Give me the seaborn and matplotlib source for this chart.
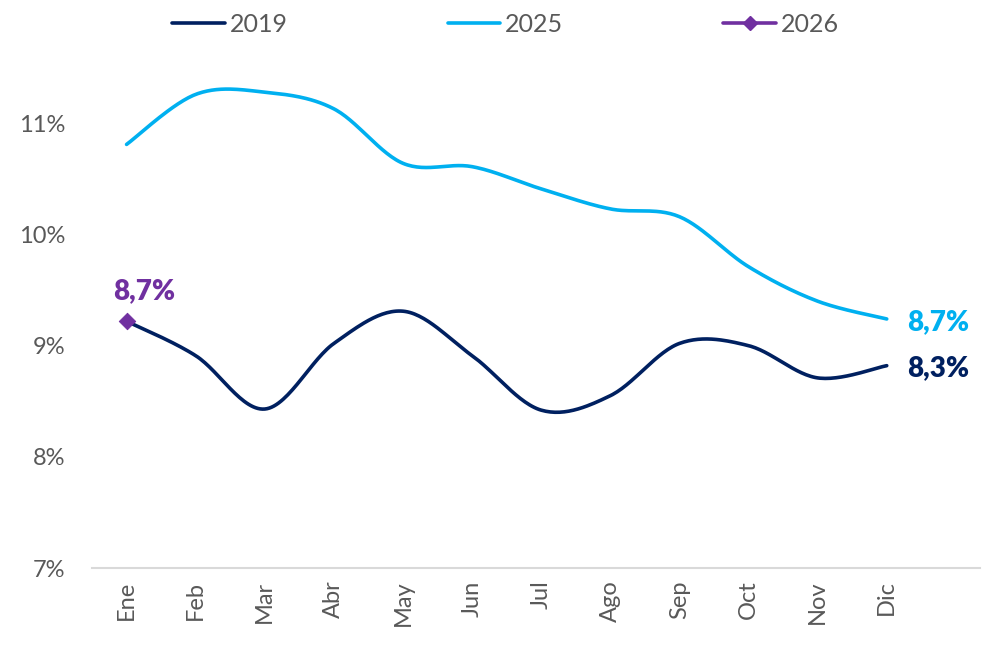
import numpy as np
import pandas as pd
import matplotlib
matplotlib.use("Agg")
import matplotlib.pyplot as plt
from matplotlib.lines import Line2D
import seaborn as sns

months = ["Ene", "Feb", "Mar", "Abr", "May", "Jun", "Jul", "Ago", "Sep", "Oct", "Nov", "Dic"]
v2019 = [9.22, 8.91, 8.43, 9.02, 9.31, 8.91, 8.42, 8.55, 9.02, 9.00, 8.71, 8.82]
v2025 = [10.81, 11.26, 11.28, 11.13, 10.64, 10.61, 10.41, 10.23, 10.16, 9.71, 9.40, 9.24]
v2026 = [9.22]
label2026 = "8,7%"
label2025 = "8,7%"
label2019 = "8,3%"
yticks = [7, 8, 9, 10, 11]
ytick_labels = ["7%", "8%", "9%", "10%", "11%"]

C2019 = "#002060"
C2025 = "#00B0F0"
C2026 = "#7030A0"
GREY = "#595959"

sns.set_theme(style="white")
plt.rcParams["font.family"] = ["Lato", "DejaVu Sans"]


def smooth(y, n=30):
    """Excel-style smoothed rendering (Catmull-Rom Bezier) of the data points."""
    y = np.asarray(y, float)
    x = np.arange(len(y), dtype=float)
    P = np.column_stack([x, y])
    out = []
    for i in range(len(P) - 1):
        p0 = P[i - 1] if i > 0 else P[i]
        p1 = P[i]
        p2 = P[i + 1]
        p3 = P[i + 2] if i + 2 < len(P) else P[i + 1]
        c1 = p1 + (p2 - p0) / 6.0
        c2 = p2 - (p3 - p1) / 6.0
        t = np.linspace(0, 1, n, endpoint=(i == len(P) - 2))[:, None]
        seg = ((1 - t) ** 3) * p1 + 3 * ((1 - t) ** 2) * t * c1 + 3 * (1 - t) * t ** 2 * c2 + t ** 3 * p2
        out.append(seg)
    S = np.vstack(out)
    return S[:, 0], S[:, 1]


fig = plt.figure(figsize=(9.82, 6.46), dpi=100)
ax = fig.add_axes([0.0937, 0.1207, 0.9043, 0.7745])

for vals, col in [(v2019, C2019), (v2025, C2025)]:
    sx, sy = smooth(vals)
    sns.lineplot(x=sx, y=sy, ax=ax, color=col, lw=2.6, sort=False, estimator=None)

df26 = pd.DataFrame({"m": [0], "v": v2026})
sns.scatterplot(data=df26, x="m", y="v", ax=ax, color=C2026, marker="D", s=70, edgecolor=C2026, zorder=5)

ax.set_xlim(-0.5, 12.35)
ax.set_ylim(7, 11.5)
ax.set_xticks(range(len(months)))
ax.set_xticklabels(months, rotation=90, fontsize=17, color=GREY)
ax.set_yticks(yticks)
ax.set_yticklabels(ytick_labels, fontsize=17, color=GREY)
ax.tick_params(axis="y", length=0, pad=19)
ax.tick_params(axis="x", length=0, pad=9)
for s in ["top", "right", "left"]:
    ax.spines[s].set_visible(False)
ax.spines["bottom"].set_color("#D9D9D9")
ax.spines["bottom"].set_linewidth(1.5)
ax.set_xlabel("")
ax.set_ylabel("")

ax.annotate(label2026, (0, v2026[0]), xytext=(13, 12), textcoords="offset points",
            ha="center", va="bottom", fontsize=20, fontweight="heavy", color=C2026)
ax.annotate(label2025, (11, v2025[-1]), xytext=(15, -2), textcoords="offset points",
            ha="left", va="center", fontsize=20, fontweight="heavy", color=C2025)
ax.annotate(label2019, (11, v2019[-1]), xytext=(15, -2), textcoords="offset points",
            ha="left", va="center", fontsize=20, fontweight="heavy", color=C2019)

handles = [
    Line2D([], [], color=C2019, lw=2.6),
    Line2D([], [], color=C2025, lw=2.6),
    Line2D([], [], color=C2026, lw=2.6, marker="D", markersize=7),
]
fig.legend(handles, ["2019", "2025", "2026"], loc="upper center", bbox_to_anchor=(0.515, 1.015),
           ncol=3, frameon=False, fontsize=18, handlelength=2.1, handletextpad=0.2,
           columnspacing=6.4, labelcolor=GREY)

fig.savefig("out.png", dpi=100)
